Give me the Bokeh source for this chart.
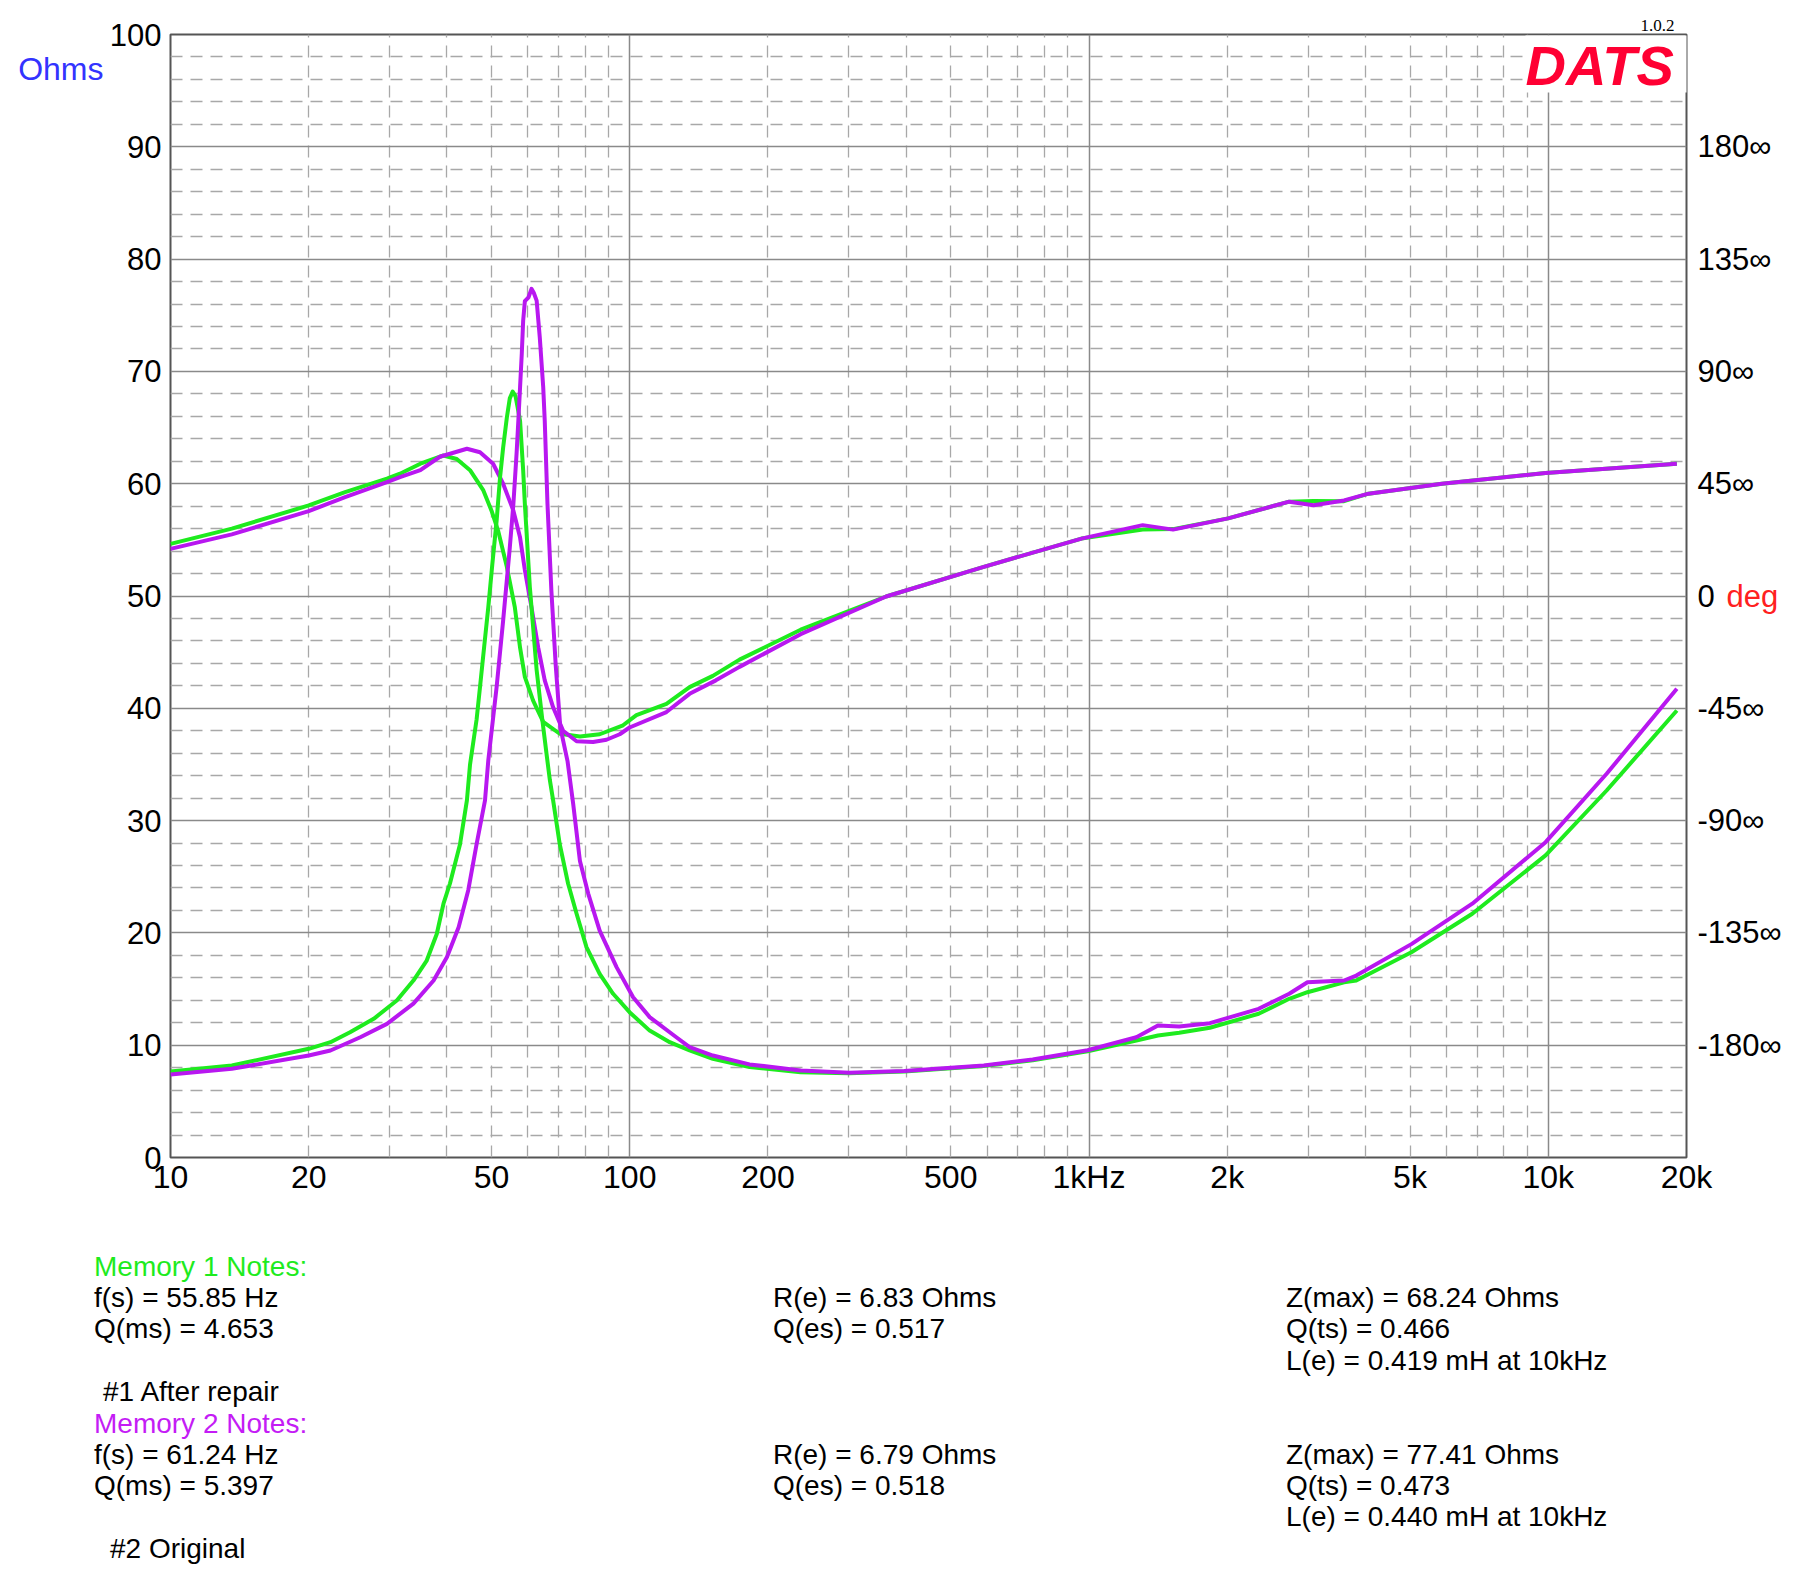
from bokeh.plotting import figure
from bokeh.layouts import column
from bokeh.models import Range1d, LinearAxis, FixedTicker, Grid, Label, BoxAnnotation, Div
from bokeh.embed import file_html
from bokeh.resources import INLINE

FONT = "Liberation Sans"
GREEN = "#1EEB1E"
PURPLE = "#B817F0"

# ---------------- data ----------------
# Memory 1 (green) impedance, Ohms
z1_freq = [10, 13.6, 20, 22.3, 24.6, 27.7, 31.1, 33.8, 36.1, 38.0, 39.3, 40.6, 42.7, 44.2, 44.9,
           46.4, 47.2, 48.2, 49.2, 50.2, 51.3, 52.2, 53.0, 54.0, 54.8, 55.6, 56.4, 57.0, 57.7, 58.6,
           59.1, 60.6, 62.7, 64.5, 65.9, 67.0, 68.1, 70.4, 73.4, 76.6, 80.5, 86.0, 92.0, 99.9,
           110.5, 122.2, 135, 151.7, 182.3, 235.6, 300.8, 396, 590, 754, 993, 1268, 1413, 1572,
           1833, 2341, 2729, 2990, 3592, 3819, 5035, 6833, 9867, 13400, 19055]
z1_ohms = [7.66, 8.19, 9.68, 10.27, 11.16, 12.35, 13.98, 15.76, 17.5, 19.9, 22.6, 24.4, 27.9, 31.8, 35.0,
           39.0, 41.9, 45.5, 49.0, 52.8, 56.7, 60.6, 63.2, 65.9, 67.6, 68.2, 67.8, 66.8, 65.6, 61.2,
           58.2, 50.8, 43.4, 39.0, 35.9, 33.6, 31.8, 27.9, 24.4, 21.7, 18.73, 16.36, 14.58, 12.94,
           11.3, 10.27, 9.53, 8.79, 8.05, 7.6, 7.5, 7.65, 8.15, 8.65, 9.45, 10.42, 10.86, 11.1,
           11.55, 12.8, 14.13, 14.72, 15.6, 15.76, 18.28, 21.7, 26.9, 32.68, 39.8]

# Memory 2 (purple) impedance, Ohms
z2_freq = [10, 13.6, 20, 22.3, 25.9, 29.6, 33.8, 37.4, 40.0, 42.4, 44.5, 46.4, 48.4, 49.2, 51.3,
           53.0, 54.8, 55.8, 56.7, 57.2, 57.7, 58.2, 58.6, 59.1, 60.2, 61.1, 61.8, 62.7, 63.7, 64.8,
           65.3, 66.2, 67.5, 69.0, 70.6, 73.2, 75.3, 77.9, 81.2, 86.0, 93.6, 101.7, 110.5, 126.3,
           135, 151.7, 182.3, 235.6, 300.8, 396, 590, 754, 993, 1268, 1413, 1572, 1833, 2341,
           2729, 2990, 3592, 3819, 5035, 6833, 9867, 13400, 19055]
z2_ohms = [7.39, 7.9, 9.08, 9.53, 10.71, 11.9, 13.7, 15.76, 17.85, 20.5, 23.8, 27.9, 31.8, 35.35, 41.9,
           47.8, 54.3, 58.2, 62.7, 65.6, 68.6, 71.6, 74.5, 76.25, 76.6, 77.35, 77.0, 76.3, 73.0, 68.6,
           65.6, 58.2, 50.5, 43.8, 38.3, 35.3, 31.5, 26.4, 23.5, 20.2, 16.95, 14.27, 12.5, 10.71,
           9.83, 9.08, 8.29, 7.75, 7.55, 7.7, 8.2, 8.72, 9.55, 10.71, 11.75, 11.66, 11.96, 13.24,
           14.58, 15.6, 15.76, 16.2, 19.0, 22.6, 28.08, 34.17, 41.74]

# Memory 1 (green) phase, degrees
p1_freq = [10, 13.6, 20, 24, 29.6, 31.6, 35.0, 39.3, 42.0, 44.9, 48.0, 50.0, 51.7, 54.0, 56.2,
           57.7, 59.1, 61.6, 64.8, 70.4, 77.9, 86.0, 96.7, 103.4, 120.2, 135, 151.7, 173.4,
           235.6, 361.6, 590, 963, 1309, 1524, 2009, 2729, 3083, 3592, 4061, 5866, 9867, 19055]
p1_deg = [20.9, 27.0, 36.3, 41.6, 47.0, 49.0, 53.0, 56.3, 54.9, 50.4, 42.3, 34.2, 26.1, 11.7, -4.5,
          -20.7, -32.4, -41.9, -50.4, -55.2, -56.3, -55.4, -51.8, -47.7, -43.2, -36.5, -32.0, -25.5,
          -13.5, -0.2, 11.7, 23.0, 26.6, 26.8, 31.1, 37.8, 38.1, 38.0, 41.0, 45.0, 49.3, 53.0]

# Memory 2 (purple) phase, degrees
p2_freq = [10, 13.6, 20, 24, 29.6, 31.6, 35.0, 38.6, 44.2, 47.2, 50.4, 53.0, 55.8, 57.7, 59.1,
           61.1, 63.2, 65.3, 68.1, 71.6, 76.6, 83.2, 89.0, 95.1, 99.9, 120.2, 135, 154, 173.4,
           235.6, 361.6, 590, 963, 1309, 1524, 2009, 2729, 3083, 3592, 4061, 5866, 9867, 19055]
p2_deg = [18.9, 24.7, 34.0, 39.6, 45.6, 47.6, 50.4, 55.8, 59.0, 57.6, 53.0, 45.0, 34.2, 23.4, 10.4,
          -4.5, -20.7, -33.8, -44.6, -54.0, -58.2, -58.5, -57.6, -55.4, -52.7, -46.5, -39.2, -33.8, -28.4,
          -15.3, -0.2, 11.7, 23.0, 28.4, 26.6, 31.1, 37.8, 36.4, 38.3, 41.0, 45.0, 49.3, 53.0]

# axes / ticks
x_ticks = [10, 20, 50, 100, 200, 500, 1000, 2000, 5000, 10000, 20000]
x_labels = ["10", "20", "50", "100", "200", "500", "1kHz", "2k", "5k", "10k", "20k"]
y_ticks = [0, 10, 20, 30, 40, 50, 60, 70, 80, 90, 100]
phase_ticks = [-180, -135, -90, -45, 0, 45, 90, 135, 180]
phase_labels = ["-180\u221e", "-135\u221e", "-90\u221e", "-45\u221e", "0", "45\u221e", "90\u221e", "135\u221e", "180\u221e"]
x_grid_major = [10, 100, 1000, 10000]
x_grid_minor = [20, 30, 40, 50, 60, 70, 80, 90,
                200, 300, 400, 500, 600, 700, 800, 900,
                2000, 3000, 4000, 5000, 6000, 7000, 8000, 9000]
y_grid_minor = [2, 4, 6, 8, 12, 14, 16, 18, 22, 24, 26, 28, 32, 34, 36, 38, 42, 44, 46, 48,
                52, 54, 56, 58, 62, 64, 66, 68, 72, 74, 76, 78, 82, 84, 86, 88, 92, 94, 96, 98]

notes1 = ["f(s) = 55.85 Hz", "Q(ms) = 4.653", "R(e) = 6.83 Ohms", "Q(es) = 0.517",
          "Z(max) = 68.24 Ohms", "Q(ts) = 0.466", "L(e) = 0.419 mH at 10kHz", "#1 After repair"]
notes2 = ["f(s) = 61.24 Hz", "Q(ms) = 5.397", "R(e) = 6.79 Ohms", "Q(es) = 0.518",
          "Z(max) = 77.41 Ohms", "Q(ts) = 0.473", "L(e) = 0.440 mH at 10kHz", "#2 Original"]

# ---------------- layout constants (page pixels) ----------------
W, H = 1784, 1560
FL, FR, FT, FB = 170, 1688, 34, 1157   # frame edges
H1 = 1210                              # height of the chart figure

p = figure(width=W, height=H1, x_axis_type="log",
           x_range=Range1d(10, 20000), y_range=Range1d(0, 100),
           output_backend="svg", toolbar_location=None,
           min_border_left=FL, min_border_right=W - FR, min_border_top=FT,
           min_border_bottom=H1 - FB)
p.extra_y_ranges = {"phase": Range1d(-225, 225)}
p.background_fill_color = "white"
p.border_fill_color = "white"
p.outline_line_color = "#555555"
p.outline_line_width = 2

# version string above the frame
p.title.text = "1.0.2"
p.title.align = "right"
p.title.offset = 12
p.title.standoff = 8
p.title.text_font = "Liberation Serif"
p.title.text_font_size = "17px"
p.title.text_font_style = "normal"
p.title.text_color = "black"

p.xgrid.grid_line_color = None
p.ygrid.grid_line_color = None

def add_grid(dim, ticks, color, width, dash):
    g = Grid(dimension=dim, ticker=FixedTicker(ticks=ticks),
             grid_line_color=color, grid_line_width=width, grid_line_dash=dash)
    p.add_layout(g)

add_grid(0, x_grid_minor, "#a8a8a8", 1.3, "12 8")
add_grid(1, y_grid_minor, "#a8a8a8", 1.3, "12 8")
add_grid(0, x_grid_major, "#8a8a8a", 1.5, "solid")
add_grid(1, y_ticks, "#8a8a8a", 1.5, "solid")

def style_axis(ax, standoff, size="31px", color="black"):
    ax.axis_line_color = None
    ax.major_tick_line_color = None
    ax.minor_tick_line_color = None
    ax.major_tick_out = 0
    ax.major_tick_in = 0
    ax.minor_tick_out = 0
    ax.minor_tick_in = 0
    ax.major_label_text_font = FONT
    ax.major_label_text_font_size = size
    ax.major_label_text_color = color
    ax.major_label_standoff = standoff

xa = p.xaxis[0]
xa.ticker = FixedTicker(ticks=x_ticks)
xa.major_label_overrides = {t: l for t, l in zip(x_ticks, x_labels)}
style_axis(xa, 1, size="32px")

ya = p.yaxis[0]
ya.ticker = FixedTicker(ticks=y_ticks)
style_axis(ya, 9)

# unit label "Ohms" (blue): a second left axis, stacked outside the first one
ohms_axis = LinearAxis(ticker=FixedTicker(ticks=[96.9]), major_label_overrides={96.9: "Ohms"})
style_axis(ohms_axis, 3, size="32px", color="#3333FF")
p.add_layout(ohms_axis, "left")

# phase axis
ra = LinearAxis(y_range_name="phase", ticker=FixedTicker(ticks=phase_ticks),
                major_label_overrides={t: l for t, l in zip(phase_ticks, phase_labels)})
style_axis(ra, 11)
p.add_layout(ra, "right")

# red "deg" next to the 0 of the phase axis (second right axis pulled back inwards)
deg_axis = LinearAxis(y_range_name="phase", ticker=FixedTicker(ticks=[0]),
                      major_label_overrides={0: "deg"})
style_axis(deg_axis, -58, color="#FF2020")
p.add_layout(deg_axis, "right")

# ---------------- curves ----------------
p.line(p1_freq, p1_deg, y_range_name="phase", line_color=GREEN, line_width=4, line_join="round")
p.line(p2_freq, p2_deg, y_range_name="phase", line_color=PURPLE, line_width=4, line_join="round")
p.line(z1_freq, z1_ohms, line_color=GREEN, line_width=4, line_join="round")
p.line(z2_freq, z2_ohms, line_color=PURPLE, line_width=4, line_join="round")

# logo with white patch
p.add_layout(BoxAnnotation(left=1525 - FL, right=FR - 1 - FL, top=FB - FT - 1, bottom=FB - 92,
                           left_units="screen", right_units="screen",
                           top_units="screen", bottom_units="screen",
                           fill_color="white", fill_alpha=1.0, line_color=None))
p.add_layout(Label(x=1525 - FL, y=FB - 65, x_units="screen", y_units="screen", text="DATS",
                   text_color="#FF0033", text_font=FONT, text_font_size="56px",
                   text_font_style="bold italic", text_baseline="middle"))

# ---------------- notes block ----------------
H2 = H - H1
items = []

def note(s, X, Y, color="black"):
    items.append(
        '<div style="position:absolute; left:%dpx; top:%dpx; white-space:nowrap; '
        'font-family:\'Liberation Sans\'; font-size:28px; line-height:28px; color:%s;">%s</div>'
        % (X, Y - H1 - 14, color, s))

rows1 = [1267, 1298, 1329, 1361, 1392]
rows2 = [1424, 1455, 1486, 1517, 1549]
c1, c2, c3 = 94, 773, 1286
for notes, rows, head, col in [(notes1, rows1, "Memory 1 Notes:", GREEN),
                               (notes2, rows2, "Memory 2 Notes:", "#C41CF5")]:
    note(head, c1, rows[0], color=col)
    note(notes[0], c1, rows[1])
    note(notes[1], c1, rows[2])
    note(notes[2], c2, rows[1])
    note(notes[3], c2, rows[2])
    note(notes[4], c3, rows[1])
    note(notes[5], c3, rows[2])
    note(notes[6], c3, rows[3])
note(notes1[7], 103, rows1[4])
note(notes2[7], 110, rows2[4])

html = ('<div style="position:relative; width:%dpx; height:%dpx; background:white;">%s</div>'
        % (W, H2, "".join(items)))
d = Div(text=html, width=W, height=H2, margin=(0, 0, 0, 0))

layout = column(p, d, spacing=0)
open("out.html", "w").write(file_html(layout, INLINE))
